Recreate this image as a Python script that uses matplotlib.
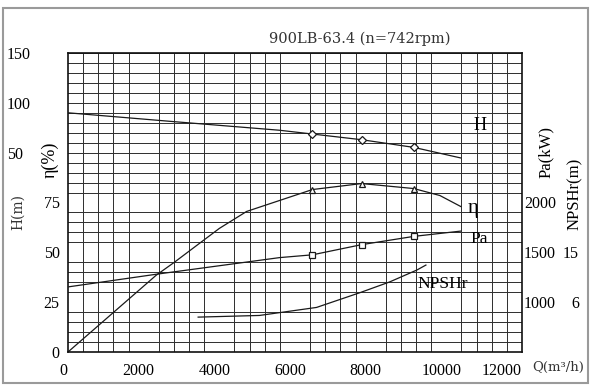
import numpy as np
import matplotlib
matplotlib.use('Agg')
import matplotlib.pyplot as plt
import matplotlib.transforms as mtransforms
from matplotlib.patches import Rectangle

# curves (Q in m3/h)
h_q = [0, 2680, 5590, 6460, 7760, 9140, 10380]
h_val = [90, 81.5, 72.5, 68.7, 63, 55.3, 44.7]
eta_q = [0, 2330, 2810, 4000, 4720, 5590, 6460, 7760, 9140, 9830, 10380]
eta_val = [0, 38.5, 45, 62, 70.5, 76, 81.5, 84.5, 82, 78.5, 73]
pa_q = [0, 2330, 5590, 6460, 7760, 9140, 10380]
pa_val = [1153, 1280, 1447, 1475, 1577, 1660, 1713]
npsh_q = [3440, 5060, 6570, 7710, 8500, 9220, 9460]
npsh_val = [3.3, 3.6, 5.05, 7.7, 9.65, 11.8, 12.7]

# test points
pt_q = [6460, 7760, 9140]
pt_h = [68.7, 63, 55.3]
pt_eta = [81.5, 84.5, 82]
pt_pa = [1475, 1577, 1660]

x_ticks = [0, 2000, 4000, 6000, 8000, 10000, 12000]
eta_ticks = [0, 25, 50, 75]
h_ticks = [50, 100, 150]
pa_ticks = [1000, 1500, 2000]
npsh_ticks = [6, 15]

W, H = 600, 392
serif = 'Liberation Serif'
plt.rcParams['font.family'] = serif

fig = plt.figure(figsize=(6, 3.92), dpi=100)
ax = fig.add_axes([68 / W, 40 / H, 454 / W, 299 / H])

# grid 30 x 30
ax.set_xlim(0, 12000)
ax.set_ylim(0, 150)
ax.set_xticks(np.arange(0, 12001, 400), minor=True)
ax.set_yticks(np.arange(0, 151, 5), minor=True)
ax.grid(which='minor', color='#333333', lw=0.7, antialiased=False)
ax.set_xticks(x_ticks)
ax.set_yticks(eta_ticks)
ax.tick_params(which='both', length=0)
ax.tick_params(axis='x', pad=8, labelsize=11.5)
ax.tick_params(axis='y', pad=6, labelsize=11.5)
for s in ax.spines.values():
    s.set_color('#111111')
    s.set_linewidth(1.2)

# nudge x labels a little left, last one right-aligned like the sheet
shift = mtransforms.ScaledTranslation(-5 / 100, 0, fig.dpi_scale_trans)
xlabels = ax.get_xticklabels()
for t in xlabels[:-1]:
    t.set_transform(t.get_transform() + shift)
xlabels[-1].set_ha('right')

lc = '#1a1a1a'
ax.plot(eta_q, eta_val, color=lc, lw=0.9)
ax.plot(pt_q, pt_eta, ls='none', marker='^', ms=5, mfc='white', mec=lc, mew=0.9)

# H axis (left, outer)
axh = ax.twinx()
axh.set_ylim(-150, 150)
axh.yaxis.tick_left()
axh.set_yticks(h_ticks)
axh.tick_params(axis='y', length=0, pad=44, labelsize=11.5)
for t in axh.get_yticklabels():
    t.set_ha('left')
axh.plot(h_q, h_val, color=lc, lw=0.9)
axh.plot(pt_q, pt_h, ls='none', marker='D', ms=4, mfc='white', mec=lc, mew=0.9)

# Pa axis (right)
axp = ax.twinx()
axp.set_ylim(500, 3500)
axp.set_yticks(pa_ticks)
axp.tick_params(axis='y', length=0, pad=1.5, labelsize=11.5)
axp.plot(pa_q, pa_val, color=lc, lw=0.9)
axp.plot(pt_q, pt_pa, ls='none', marker='s', ms=5, mfc='white', mec=lc, mew=0.9)

# NPSHr axis (right, outer)
axn = ax.twinx()
axn.set_ylim(-3, 51)
axn.set_yticks(npsh_ticks)
axn.tick_params(axis='y', length=0, pad=41, labelsize=11.5)
for t in axn.get_yticklabels():
    t.set_ha('right')
axn.plot(npsh_q, npsh_val, color=lc, lw=0.9)

for a in (axh, axp, axn):
    for s in a.spines.values():
        s.set_visible(False)
    a.set_xlim(0, 12000)


def fx(x):
    return x / W


def fy(y):
    return 1 - y / H


fig.text(fx(360), fy(39), '900LB-63.4 (n=742rpm)', ha='center', va='center',
         fontsize=10.5, family='DejaVu Serif', color='#333333')

# curve names
fig.text(fx(480), fy(125), 'H', ha='center', va='center', fontsize=13)
fig.text(fx(473), fy(209), 'η', ha='center', va='center', fontsize=15)
fig.text(fx(479), fy(239), 'Pa', ha='center', va='center', fontsize=12.5)
fig.text(fx(443), fy(284), 'NPSHr', ha='center', va='center', fontsize=12.5)

# axis names
fig.text(fx(18), fy(212), 'H(m)', rotation=90, ha='center', va='center',
         fontsize=10, family='DejaVu Serif', color='#333333')
fig.text(fx(50), fy(160), 'η(%)', rotation=90, ha='center', va='center', fontsize=13)
fig.text(fx(546), fy(152), 'Pa(kW)', rotation=90, ha='center', va='center', fontsize=12)
fig.text(fx(575), fy(194), 'NPSHr(m)', rotation=90, ha='center', va='center', fontsize=12)
fig.text(fx(558), fy(367), 'Q(m³/h)', ha='center', va='center', fontsize=9.5,
         family='DejaVu Serif', color='#333333')

# outer frame
fig.patches.append(Rectangle((fx(3), fy(383)), (588 - 3) / W, (383 - 8) / H,
                             transform=fig.transFigure, fill=False,
                             edgecolor='#9a9a9a', lw=1.5))

plt.savefig('out.png', dpi=100)
